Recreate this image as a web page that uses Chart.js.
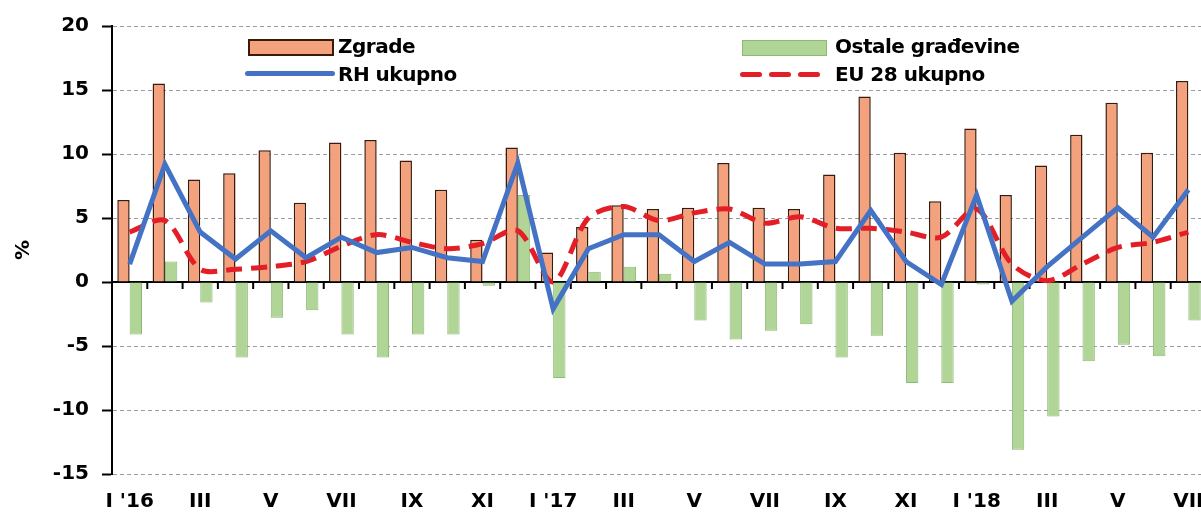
<!DOCTYPE html>
<html>
<head>
<meta charset="utf-8">
<script src="https://cdn.jsdelivr.net/npm/chart.js@4"></script>
<style>
  html, body { margin: 0; padding: 0; background: #fff; overflow: hidden; }
  #wrap { position: relative; width: 1218px; height: 516px; }
  .lg { position: absolute; font: bold 20px "DejaVu Sans", sans-serif; color: #000; white-space: nowrap; line-height: 22px; letter-spacing: -0.5px; }
  .sw { position: absolute; }
</style>
</head>
<body>
<div id="wrap">
  <canvas id="graf" width="1218" height="516"></canvas>

  <!-- legend -->
  <div class="sw" style="left:248px;top:39px;width:82px;height:13px;background:#F4A27E;border:2px solid #3a1a0a;"></div>
  <div class="lg" style="left:338px;top:35px;">Zgrade</div>
  <div class="sw" style="left:245px;top:71px;width:90px;height:5px;border-radius:3px;background:#4472C4;"></div>
  <div class="lg" style="left:338px;top:63px;">RH ukupno</div>

  <div class="sw" style="left:742px;top:40px;width:83px;height:14px;background:#B0D596;border:1px solid #8DB876;"></div>
  <div class="lg" style="left:835px;top:35px;">Ostale građevine</div>
  <div class="sw" style="left:740px;top:72px;width:22px;height:5px;border-radius:3px;background:#E41E26;"></div>
  <div class="sw" style="left:769px;top:72px;width:22px;height:5px;border-radius:3px;background:#E41E26;"></div>
  <div class="sw" style="left:798px;top:72px;width:22px;height:5px;border-radius:3px;background:#E41E26;"></div>
  <div class="lg" style="left:835px;top:63px;">EU 28 ukupno</div>
</div>

<script>
// mjeseci I '16 - VII '18
const mjeseci = ["I '16", "II", "III", "IV", "V", "VI", "VII", "VIII", "IX", "X", "XI", "XII",
                 "I '17", "II", "III", "IV", "V", "VI", "VII", "VIII", "IX", "X", "XI", "XII",
                 "I '18", "II", "III", "IV", "V", "VI", "VII"];

const zgrade = [6.4, 15.5, 8.0, 8.5, 10.3, 6.2, 10.9, 11.1, 9.5, 7.2, 3.3, 10.5,
                2.3, 4.3, 6.0, 5.7, 5.8, 9.3, 5.8, 5.7, 8.4, 14.5, 10.1, 6.3,
                12.0, 6.8, 9.1, 11.5, 14.0, 10.1, 15.7];

const ostale = [-4.1, 1.6, -1.6, -5.9, -2.8, -2.2, -4.1, -5.9, -4.1, -4.1, -0.3, 6.8,
                -7.5, 0.8, 1.2, 0.65, -3.0, -4.5, -3.8, -3.3, -5.9, -4.2, -7.9, -7.9,
                -0.2, -13.1, -10.5, -6.2, -4.9, -5.8, -3.0];

const rhUkupno = [1.4, 9.2, 3.9, 1.8, 4.0, 1.9, 3.5, 2.3, 2.7, 1.9, 1.6, 9.3,
                  -2.1, 2.6, 3.7, 3.7, 1.6, 3.1, 1.4, 1.4, 1.6, 5.6, 1.6, -0.2,
                  6.8, -1.5, 1.2, 3.5, 5.8, 3.5, 7.2];

const euUkupno = [3.9, 4.8, 1.0, 1.0, 1.2, 1.6, 2.8, 3.7, 3.1, 2.6, 3.0, 4.0,
                  0.0, 5.0, 5.9, 4.8, 5.4, 5.7, 4.6, 5.1, 4.2, 4.2, 3.9, 3.5,
                  5.7, 1.4, 0.1, 1.4, 2.7, 3.1, 3.9];

const yMin = -15, yMax = 20, yStep = 5;

const font = { family: "'DejaVu Sans', sans-serif", weight: "bold", size: 20 };

// crna os na nuli + oznake izmedu mjeseci
const nultaOs = {
  id: "nultaOs",
  beforeDatasetsDraw(chart) {
    const { ctx, chartArea, scales: { x, y } } = chart;
    const y0 = y.getPixelForValue(0);
    ctx.save();
    ctx.strokeStyle = "#000";
    ctx.lineWidth = 2;
    ctx.beginPath();
    ctx.moveTo(chartArea.left, y0);
    ctx.lineTo(chartArea.right, y0);
    ctx.stroke();
    const half = (x.getPixelForValue(1) - x.getPixelForValue(0)) / 2;
    for (let i = 0; i < mjeseci.length; i++) {
      const px = x.getPixelForValue(i) + half;
      ctx.beginPath();
      ctx.moveTo(px, y0);
      ctx.lineTo(px, y0 + 7);
      ctx.stroke();
    }
    ctx.restore();
  }
};

new Chart(document.getElementById("graf"), {
  type: "bar",
  data: {
    labels: mjeseci,
    datasets: [
      {
        type: "line",
        label: "RH ukupno",
        data: rhUkupno,
        borderColor: "#4472C4",
        borderWidth: 5,
        pointRadius: 0,
        tension: 0,
        order: 0
      },
      {
        type: "line",
        label: "EU 28 ukupno",
        data: euUkupno,
        borderColor: "#E41E26",
        borderWidth: 5,
        borderDash: [16, 9],
        pointRadius: 0,
        tension: 0.3,
        order: 1
      },
      {
        label: "Zgrade",
        data: zgrade,
        backgroundColor: "#F4A27E",
        borderColor: "#3a1a0a",
        borderWidth: 1.5,
        categoryPercentage: 0.7,
        barPercentage: 1.0,
        order: 2
      },
      {
        label: "Ostale građevine",
        data: ostale,
        backgroundColor: "#B0D596",
        borderColor: "#8DB876",
        borderWidth: 1,
        categoryPercentage: 0.7,
        barPercentage: 1.0,
        order: 3
      }
    ]
  },
  options: {
    responsive: false,
    animation: false,
    layout: { padding: { top: 26, right: 12, left: 0, bottom: 0 } },
    plugins: {
      legend: { display: false },
      tooltip: { enabled: false }
    },
    scales: {
      x: {
        grid: { display: false },
        border: { display: false },
        ticks: {
          autoSkip: false,
          maxRotation: 0,
          color: "#000",
          font: font,
          padding: 8,
          callback: (v, i) => (i % 2 === 0 ? mjeseci[i] : "")
        },
        afterFit: (s) => { s.height = 42; }
      },
      y: {
        min: yMin,
        max: yMax,
        ticks: { stepSize: yStep, color: "#000", font: font, padding: 13 },
        grid: { color: "#9a9aa8", lineWidth: 1, tickColor: "#000", tickLength: 10, tickWidth: 2 },
        border: { display: true, color: "#000", width: 2, dash: [4, 3] },
        title: { display: true, text: "%", color: "#000", font: font, padding: { top: 12, bottom: 0 } },
        afterFit: (s) => { s.width = 112; }
      }
    }
  },
  plugins: [nultaOs]
});
</script>
</body>
</html>
